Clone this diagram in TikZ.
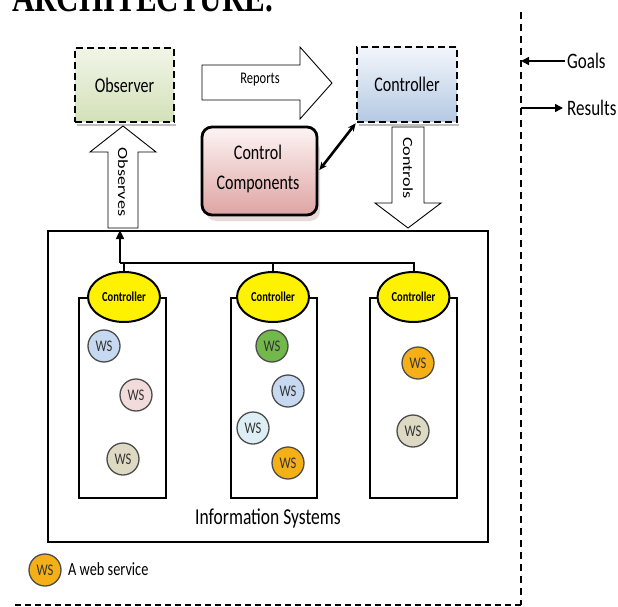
\documentclass[tikz,border=0pt]{standalone}
\usepackage{fontspec}
\setmainfont{Carlito}
\newfontfamily\titlefont{Liberation Serif}
\usetikzlibrary{arrows.meta,calc,shapes.geometric}
\definecolor{obsTop}{HTML}{F1F5E8}
\definecolor{obsBot}{HTML}{D3E1B8}
\definecolor{ctlTop}{HTML}{F3F6FB}
\definecolor{ctlBot}{HTML}{B4C9E3}
\definecolor{ccTop}{HTML}{FDF4F4}
\definecolor{ccBot}{HTML}{DEA4A3}
\definecolor{wsblue}{HTML}{C6D9F0}
\definecolor{wspink}{HTML}{F2DCDB}
\definecolor{wsgray}{HTML}{DDD9C3}
\definecolor{wsgreen}{HTML}{72B84A}
\definecolor{wsorange}{HTML}{F4B016}
\definecolor{wscyan}{HTML}{DDEFF5}
\definecolor{ellyellow}{HTML}{FFF200}
\newcommand\vstr[1]{\scalebox{1}[1.3]{#1}}
\newcommand\hstr[1]{\scalebox{1.3}[1]{#1}}
\tikzset{
  dbox/.style={draw, line width=2.6pt, dash pattern=on 7pt off 4pt, inner sep=0pt,
    font=\fontsize{16}{16}\selectfont},
  blockarrow/.style={draw, fill=white, line width=0.9pt, line join=miter},
  colbox/.style={draw, line width=2.6pt},
  ctl/.style={ellipse, draw, line width=2pt, fill=ellyellow, minimum width=72pt,
    minimum height=50pt, inner sep=0pt, font=\bfseries\fontsize{10.5}{10.5}\selectfont},
  ws/.style={circle, draw=black!70, line width=1.3pt, minimum size=32pt, inner sep=0pt,
    font=\fontsize{12.5}{12.5}\selectfont, text=black!80},
  bus/.style={line width=2pt},
  lbl/.style={inner sep=0pt},
  shadowline/.style={line width=2pt, black!25},
}
\begin{document}
\begin{tikzpicture}[x=1pt,y=-1pt]
\useasboundingbox (0,0) rectangle (618,607);
\clip (0,0) rectangle (618,607);

% clipped heading
\node[lbl, anchor=base west, font=\titlefont\bfseries\fontsize{31}{31}\selectfont] (title) at (12,12) {\vstr{ARCHITECTURE.}};

% outer dashed boundary
\coordinate (vtop) at (521,12);
\coordinate (vbot) at (521,605);
\coordinate (hleft) at (15,605);
\draw[line width=2.8pt, dash pattern=on 7pt off 5pt] (vtop) -- (vbot);
\draw[line width=2.8pt, dash pattern=on 6pt off 4pt] (hleft) -- (vbot);

% Goals / Results
\node[lbl, anchor=west, font=\fontsize{17}{17}\selectfont] (goals) at (567,61) {\vstr{Goals}};
\node[lbl, anchor=west, font=\fontsize{17}{17}\selectfont] (results) at (567,108) {\vstr{Results}};
\draw[line width=1.6pt, -{Triangle[length=8pt,width=8pt]}] ([xshift=-2pt]goals.west) -- (goals.west -| vtop);
\draw[line width=1.6pt, -{Triangle[length=8pt,width=8pt]}] (results.west -| vtop) -- ([xshift=-4pt]results.west);

% top boxes
\draw[shadowline] (77,125) -- (176,125);
\draw[shadowline] (359,125) -- (459,125);
\node[dbox, top color=obsTop, bottom color=obsBot, minimum width=99pt, minimum height=74pt] (obs) at (124.5,85) {\vstr{Observer}};
\node[dbox, top color=ctlTop, bottom color=ctlBot, minimum width=100pt, minimum height=75pt] (ctrl) at (407,84.5) {\vstr{Controller}};

% control components
\fill[ccBot!60!gray, opacity=0.35, rounded corners=10pt] (206,140) rectangle (320,221);
\node[draw, line width=2.8pt, rounded corners=10pt, top color=ccTop, bottom color=ccBot,
  minimum width=115pt, minimum height=88pt, inner sep=0pt] (cc) at (259.5,171) {};
\node[lbl, font=\fontsize{16}{16}\selectfont] (cct1) at (258,152) {\vstr{Control}};
\node[lbl, font=\fontsize{16}{16}\selectfont] (cct2) at (258,184) {\vstr{Components}};
\draw[line width=2.6pt, {Stealth[length=8pt,width=7pt]}-{Stealth[length=8pt,width=7pt]}] ([xshift=1pt,yshift=1pt]cc.east) -- (ctrl.south west);

% block arrows
\draw[blockarrow] (202,65) -- (300,65) -- (300,47) -- (332,83) -- (300,119) -- (300,100) -- (202,100) -- cycle;
\node[lbl, font=\fontsize{12.5}{12.5}\selectfont] (rep) at (260,80) {\vstr{Reports}};
\draw[blockarrow] (108,228) -- (108,152) -- (90,152) -- (123,126) -- (156,152) -- (138,152) -- (138,228) -- cycle;
\node[lbl, rotate=-90, font=\fontsize{14}{14}\selectfont] (obst) at (123,182) {\hstr{Observes}};
\draw[blockarrow] (392,127) -- (424,127) -- (424,203) -- (441,203) -- (408,228) -- (375,203) -- (392,203) -- cycle;
\node[lbl, rotate=-90, font=\fontsize{14}{14}\selectfont] (ctlt) at (408,168) {\hstr{Controls}};

% information systems
\node[draw, line width=1.7pt, minimum width=440pt, minimum height=311pt, inner sep=0pt] (is) at (268,386.5) {};
\node[lbl, font=\fontsize{17.5}{17.5}\selectfont] (ist) at (268,518) {\vstr{Information Systems}};

\draw[colbox] (79,298) rectangle (166,498);
\draw[colbox] (231,298) rectangle (317,498);
\draw[colbox] (370,298) rectangle (457,498);

\node[ctl] (c1) at (124,297) {\vstr{Controller}};
\node[ctl] (c2) at (273,297) {\vstr{Controller}};
\node[ctl] (c3) at (413.5,297) {\vstr{Controller}};

\coordinate (busL) at (120,263);
\draw[bus] (c1.north) -- (c1.north |- busL);
\draw[bus] (c2.north) -- (c2.north |- busL);
\draw[bus] (c3.north) -- (c3.north |- busL) -- (busL);
\draw[bus, -{Triangle[length=9pt,width=8pt]}] (busL) -- (busL |- is.north);

% web services
\node[ws, fill=wsblue] (w1) at (104,346) {\vstr{WS}};
\node[ws, fill=wspink] (w2) at (136,395) {\vstr{WS}};
\node[ws, fill=wsgray] (w3) at (123,459) {\vstr{WS}};
\node[ws, fill=wsgreen] (w4) at (272,346) {\vstr{WS}};
\node[ws, fill=wsblue] (w5) at (288,391) {\vstr{WS}};
\node[ws, fill=wscyan] (w6) at (253,428) {\vstr{WS}};
\node[ws, fill=wsorange] (w7) at (288,463) {\vstr{WS}};
\node[ws, fill=wsorange] (w8) at (418,363) {\vstr{WS}};
\node[ws, fill=wsgray] (w9) at (413,431) {\vstr{WS}};

% legend
\node[ws, fill=wsorange] (wl) at (45,570) {\vstr{WS}};
\node[lbl, anchor=west, font=\fontsize{14.3}{14.3}\selectfont] (wlt) at (68,569) {\vstr{A web service}};
\end{tikzpicture}
\end{document}
